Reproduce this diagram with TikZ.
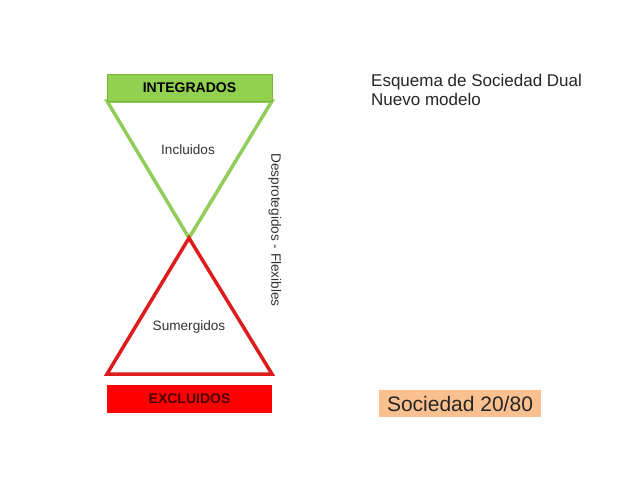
\documentclass[tikz,border=0pt]{standalone}
\usepackage{fontspec}
\setmainfont{Liberation Sans}
\usetikzlibrary{positioning, calc}
\definecolor{IntFill} {RGB}{146,208,80}
\definecolor{IntLine} {RGB}{120,180,60}
\definecolor{TriGreen}{RGB}{146,205,90}
\definecolor{TriRed}  {RGB}{222,28,30}
\definecolor{ExcFill} {RGB}{255,0,0}
\definecolor{ExcText} {RGB}{70,0,0}
\definecolor{SocFill} {RGB}{250,192,143}
\tikzset{
  % Coloured label bars above / below the hourglass
  bar/.style={
    rectangle, minimum width=165pt, minimum height=27pt,
    inner sep=0pt, font=\fontsize{14}{16}\selectfont\bfseries
  },
  % Triangle outlines
  tri/.style={line width=3.5pt, line join=miter},
  lbl/.style={font=\fontsize{13.6}{16}\selectfont, text=black!80, inner sep=0pt},
  title/.style={font=\fontsize{17}{20}\selectfont, text=black!85, anchor=base west, inner sep=0pt}
}

\begin{document}
\begin{tikzpicture}[x=1pt, y=-1pt]

  \useasboundingbox[fill=white] (0,0) rectangle (638,479);

  %% -- Hourglass ------------------------------------------------------------
  \coordinate (apex) at (189,238);
  \coordinate (gl) at (107,101);
  \coordinate (gr) at (272,101);
  \coordinate (rl) at (107,374);
  \coordinate (rr) at (272,374);

  \draw[tri, draw=TriGreen] (gl) -- (apex) -- (gr) -- cycle;
  \draw[tri, draw=TriRed]   (rl) -- (apex) -- (rr) -- cycle;

  \node[bar, fill=IntFill, draw=IntLine, line width=0.6pt] (integ) at (189.5,87.5) {INTEGRADOS};
  \node[bar, fill=ExcFill, text=ExcText, minimum height=28pt] (exclu) at (189.5,399) {EXCLUIDOS};

  \node[lbl] (inclu) at (188,150) {Incluidos};
  \node[lbl] (sumer) at (189,327) {Sumergidos};
  \node[lbl, rotate=-90] (despr) at (275,230) {Desprotegidos - Flexibles};

  %% -- Right side -----------------------------------------------------------
  \node[title] (tit1) at (371,86) {Esquema de Sociedad Dual};
  \node[title] (tit2) at (371,105) {Nuevo modelo};

  \node[fill=SocFill, minimum width=162pt, minimum height=27pt, inner sep=0pt,
        font=\fontsize{21}{24}\selectfont, text=black!85] (socie) at (460,403.5) {Sociedad 20/80};

\end{tikzpicture}
\end{document}
